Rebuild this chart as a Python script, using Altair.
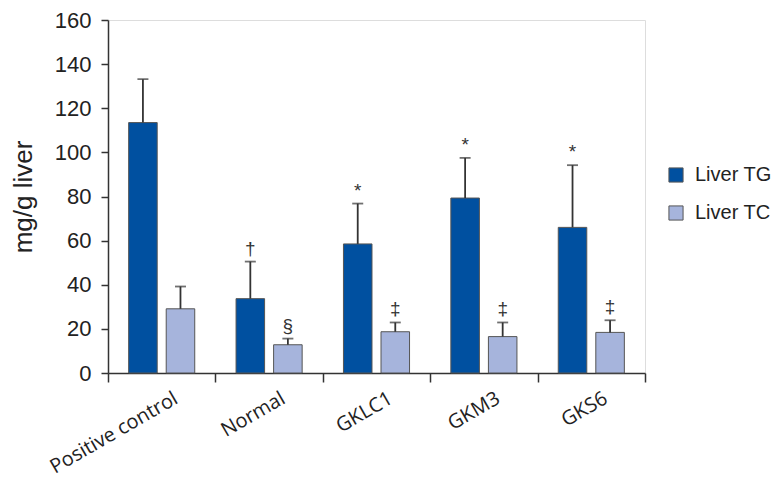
import altair as alt
import pandas as pd

groups = ["Positive control", "Normal", "GKLC1", "GKM3", "GKS6"]
series = ["Liver TG", "Liver TC"]
tg_mean = [113.5, 33.7, 58.5, 79.3, 66.0]
tg_upper = [133.2, 50.5, 76.8, 97.5, 94.2]
tc_mean = [29.1, 12.8, 18.7, 16.5, 18.4]
tc_upper = [39.2, 15.6, 22.9, 22.9, 23.9]
tg_marks = ["", "†", "*", "*", "*"]
tc_marks = ["", "§", "‡", "‡", "‡"]

rows = []
for i, g in enumerate(groups):
    rows.append({"group": g, "series": series[0], "mean": tg_mean[i], "upper": tg_upper[i], "mark": tg_marks[i]})
    rows.append({"group": g, "series": series[1], "mean": tc_mean[i], "upper": tc_upper[i], "mark": tc_marks[i]})
df = pd.DataFrame(rows)

x_enc = alt.X("group:N", sort=groups, title=None,
              scale=alt.Scale(paddingInner=0, paddingOuter=0),
              axis=alt.Axis(labelAngle=-30, labelAlign="right", labelBaseline="top",
                            labelFont="Open Sans", labelFontSize=20, labelColor="#222",
                            labelPadding=6, labelOffset=9, tickBand="extent",
                            tickSize=9, tickWidth=1.5, tickColor="#333",
                            domainColor="#333", domainWidth=1.5, labelOverlap=False))
xo = alt.XOffset("series:N", sort=series,
                 scale=alt.Scale(paddingInner=0.24, paddingOuter=0.55))
y_scale = alt.Scale(domain=[0, 160], nice=False)

bars = alt.Chart(df).mark_bar(stroke="#555", strokeWidth=1).encode(
    x=x_enc,
    xOffset=xo,
    y=alt.Y("mean:Q", scale=y_scale, title="mg/g liver",
            axis=alt.Axis(values=list(range(0, 161, 20)), grid=False,
                          labelFont="Liberation Sans", labelFontSize=22, labelColor="#222",
                          labelPadding=10, tickSize=7, tickWidth=1.5, tickColor="#333",
                          domainColor="#333", domainWidth=1.5,
                          titleFont="Liberation Sans", titleFontSize=26, titleFontWeight="normal",
                          titleColor="#222", titlePadding=18)),
    color=alt.Color("series:N", sort=series,
                    scale=alt.Scale(domain=series, range=["#0050A0", "#A6B4DC"]),
                    legend=alt.Legend(title=None, orient="none", legendX=558, legendY=145,
                                      symbolType="square", symbolSize=200,
                                      symbolStrokeColor="#555", symbolStrokeWidth=1,
                                      labelFont="Liberation Sans", labelFontSize=20,
                                      labelColor="#222", rowPadding=18, labelOffset=9)),
)

err = alt.Chart(df).mark_rule(color="#333", strokeWidth=1.8).encode(
    x=alt.X("group:N", sort=groups),
    xOffset=xo,
    y=alt.Y("mean:Q", scale=y_scale),
    y2="upper:Q",
)

caps = alt.Chart(df).mark_tick(color="#333", thickness=1.8, size=11, orient="horizontal").encode(
    x=alt.X("group:N", sort=groups),
    xOffset=xo,
    y=alt.Y("upper:Q", scale=y_scale),
)

labels = alt.Chart(df).mark_text(font="Liberation Sans", fontSize=19, color="#333",
                                 baseline="bottom", dy=-3).encode(
    x=alt.X("group:N", sort=groups),
    xOffset=xo,
    y=alt.Y("upper:Q", scale=y_scale),
    text="mark:N",
)

chart = alt.layer(bars, err, caps, labels).properties(
    width=537, height=353,
    autosize=alt.AutoSizeParams(type="none"),
    padding={"left": 100, "top": 12, "right": 129, "bottom": 105},
).configure_view(stroke=None).configure(background="white")

chart.save("out.html", embed_options={"renderer": "svg", "actions": False})
